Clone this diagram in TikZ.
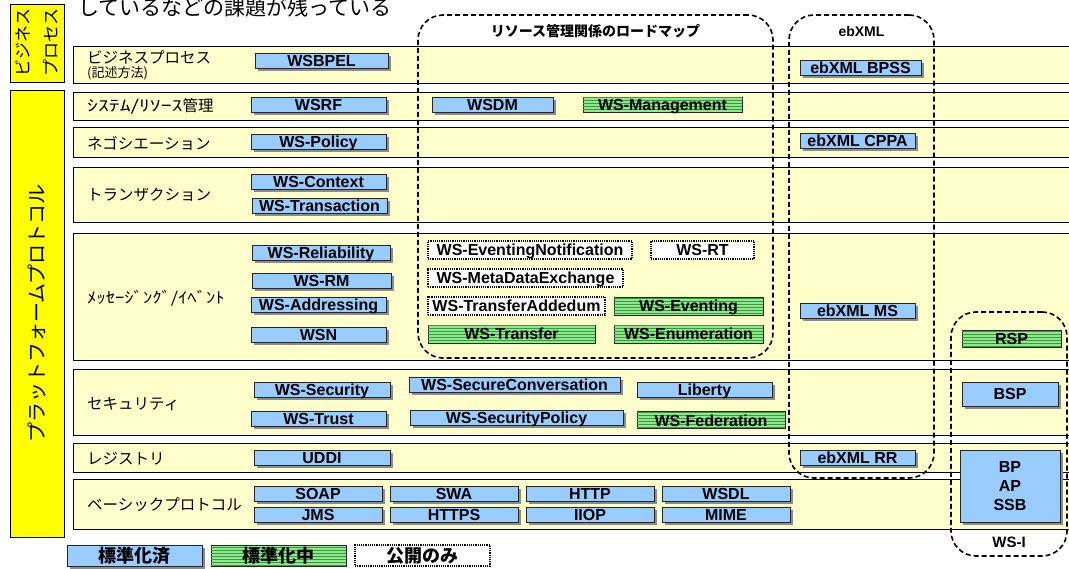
\documentclass[tikz,border=0pt]{standalone}
\usepackage{fontspec}
\setmainfont{Noto Sans CJK JP}
\newfontfamily\boxfont{Liberation Sans}
\usetikzlibrary{positioning,shadows,patterns}
\definecolor{rowfill}{HTML}{FFFFCC}
\definecolor{stdblue}{HTML}{99CCFF}
\definecolor{wipgreen}{HTML}{8FE88F}
\definecolor{wipline}{HTML}{3A9A3A}
\definecolor{sideyellow}{HTML}{FFFF00}
\def \bh{15}

\tikzset{
  box/.style={inner sep=0pt, minimum height=\bh, font=\boxfont\bfseries\fontsize{16}{16}\selectfont},
  boxtext/.style={text height=12pt, text depth=0pt},
  stdfill/.style={draw=black!85, fill=stdblue,
    drop shadow={shadow xshift=3pt, shadow yshift=-3pt, fill=black!45, opacity=1}},
  std/.style={box, boxtext, stdfill},
  wip/.style={box, boxtext, draw=black!85, fill=wipgreen,
    postaction={pattern=horizontal lines, pattern color=wipline}},
  pub/.style={box, boxtext, draw=black, fill=white, densely dotted, line width=1.2pt},
  row/.style={draw=black, fill=rowfill, line width=0.8pt},
  side/.style={draw=black, fill=sideyellow, line width=0.8pt, inner sep=0pt},
  rowlabel/.style={anchor=west, inner sep=0pt, font=\fontsize{15.5}{17}\selectfont},
  group/.style={draw=black, line width=1.6pt, dash pattern=on 5pt off 3pt,
    rounded corners=25pt, inner sep=0pt},
  grouplabel/.style={inner sep=0pt, font=\bfseries\fontsize{14}{14}\selectfont},
  legend/.style={inner sep=0pt, minimum width=135, minimum height=21,
    font=\bfseries\fontsize{18}{18}\selectfont}
}

\begin{document}
\begin{tikzpicture}[x=1pt, y=-1pt]
  \useasboundingbox (0,0) rectangle (1069,569);

  % caption cut at the top
  \node[anchor=west, inner sep=0pt, font=\fontsize{21}{21}\selectfont] (caption) at (78, 7) {しているなどの課題が残っている};

  % rows
  \foreach \top/\bot in {46/83, 92/120, 127/157, 167/222, 233/360, 369/435, 443/472, 479/529}
    \draw[row] (73,\top) rectangle (1080,\bot);

  % side labels
  \node[side, minimum width=54, minimum height=78] (biz) at (37, 43) {};
  \node[rotate=90, align=center, font=\fontsize{17}{28}\selectfont] at (biz) {ビジネス\\プロセス};
  \node[side, minimum width=54, minimum height=447] (platform) at (37, 313.5) {};
  \node[rotate=90, font=\fontsize{20}{20}\selectfont] at (platform) {プラットフォームプロトコル};

  % row labels
  \node[rowlabel] (lbiz) at (87, 57) {ビジネスプロセス};
  \node[rowlabel, font=\fontsize{13}{13}\selectfont] (lbiz2) at (87, 73) {(記述方法)};
  \node[rowlabel] (lsys) at (87, 106) {\scalebox{1.4}[1]{ｼｽﾃﾑ/ﾘｿｰｽ}管理};
  \node[rowlabel] (lnego) at (87, 143) {ネゴシエーション};
  \node[rowlabel] (ltrans) at (87, 195) {トランザクション};
  \node[rowlabel] (lmsg) at (87, 298) {\scalebox{1.2}[1]{ﾒｯｾｰｼﾞﾝｸﾞ/ｲﾍﾞﾝﾄ}};
  \node[rowlabel] (lsec) at (87, 404) {セキュリティ};
  \node[rowlabel] (lreg) at (87, 459) {レジストリ};
  \node[rowlabel] (lbasic) at (87, 505) {ベーシックプロトコル};

  % ビジネスプロセス
  \node[std, minimum width=133] (wsbpel) at (321.5, 60.5) {WSBPEL};
  \node[std, minimum width=121] (bpss) at (860.5, 67.5) {ebXML BPSS};

  % システム/リソース管理
  \node[std, minimum width=135] (wsrf) at (318.5, 104.5) {WSRF};
  \node[std, minimum width=121] (wsdm) at (492.5, 104.5) {WSDM};
  \node[wip, minimum width=159] (wsman) at (662.5, 104.5) {WS-Management};

  % ネゴシエーション
  \node[std, minimum width=135] (wspolicy) at (318.5, 141.5) {WS-Policy};
  \node[std, minimum width=115] (cppa) at (857.5, 140.5) {ebXML CPPA};

  % トランザクション
  \node[std, minimum width=135] (wsctx) at (318.5, 181.5) {WS-Context};
  \node[std, minimum width=135] (wstx) at (319.5, 205.5) {WS-Transaction};

  % メッセージング/イベント
  \node[std, minimum width=138] (wsrel) at (321, 253) {WS-Reliability};
  \node[std, minimum width=139] (wsrm) at (321.5, 281) {WS-RM};
  \node[std, minimum width=135] (wsaddr) at (318.5, 305) {WS-Addressing};
  \node[std, minimum width=135] (wsn) at (318.5, 334.5) {WSN};
  \node[pub, minimum width=204, minimum height=18] (wsevnotif) at (530, 250) {WS-EventingNotification};
  \node[pub, minimum width=103, minimum height=18] (wsrt) at (702.5, 250) {WS-RT};
  \node[pub, minimum width=195, minimum height=18] (wsmex) at (525.5, 278) {WS-MetaDataExchange};
  \node[pub, minimum width=177, minimum height=18] (wstadd) at (516.5, 306) {WS-TransferAddedum};
  \node[wip, minimum width=149, minimum height=18] (wsevent) at (688.5, 306) {WS-Eventing};
  \node[wip, minimum width=167, minimum height=18] (wstransfer) at (511.5, 334) {WS-Transfer};
  \node[wip, minimum width=149, minimum height=18] (wsenum) at (688.5, 334) {WS-Enumeration};
  \node[std, minimum width=115] (ebms) at (857.5, 310.5) {ebXML MS};
  \node[wip, minimum width=99, minimum height=17] (rsp) at (1011.5, 338.5) {RSP};

  % セキュリティ
  \node[std, minimum width=136] (wssec) at (322, 389.5) {WS-Security};
  \node[std, minimum width=135] (wstrust) at (318.5, 418.5) {WS-Trust};
  \node[std, minimum width=211] (wssc) at (514.5, 385) {WS-SecureConversation};
  \node[std, minimum width=213] (wssp) at (516.5, 417.5) {WS-SecurityPolicy};
  \node[std, minimum width=135] (liberty) at (704.5, 389.5) {Liberty};
  \node[wip, minimum width=148, minimum height=17] (wsfed) at (711, 420) {WS-Federation};
  \node[std, minimum width=96, minimum height=24] (bsp) at (1010, 394) {BSP};

  % レジストリ
  \node[std, minimum width=136] (uddi) at (322, 457.5) {UDDI};
  \node[std, minimum width=115] (ebrr) at (857.5, 457.5) {ebXML RR};

  % ベーシックプロトコル
  \node[std, minimum width=128] (soap) at (318, 493.5) {SOAP};
  \node[std, minimum width=128] (jms) at (318, 514.5) {JMS};
  \node[std, minimum width=128] (swa) at (454, 493.5) {SWA};
  \node[std, minimum width=128] (https) at (454, 514.5) {HTTPS};
  \node[std, minimum width=128] (http) at (590, 493.5) {HTTP};
  \node[std, minimum width=128] (iiop) at (590, 514.5) {IIOP};
  \node[std, minimum width=128] (wsdl) at (726, 493.5) {WSDL};
  \node[std, minimum width=128] (mime) at (726, 514.5) {MIME};
  \node[box, stdfill, minimum width=100, minimum height=72, align=center,
    font=\boxfont\bfseries\fontsize{16}{19}\selectfont] (bpapssb) at (1010, 486) {BP\\AP\\SSB};

  % dashed groups
  \node[group, minimum width=355, minimum height=343] (roadmap) at (595.5, 186.5) {};
  \node[grouplabel, below=10pt of roadmap.north] (lroadmap) {リソース管理関係のロードマップ};
  \node[group, minimum width=145, minimum height=463] (ebxml) at (861.5, 246.5) {};
  \node[grouplabel, font=\boxfont\bfseries\fontsize{14}{14}\selectfont, below=12pt of ebxml.north] (lebxml) {ebXML};
  \node[group, minimum width=116, minimum height=244] (wsi) at (1009, 434) {};
  \node[grouplabel, font=\boxfont\bfseries\fontsize{15}{15}\selectfont, above=9pt of wsi.south] (lwsi) {WS-I};

  % legend
  \node[legend, stdfill] (kdone) at (134.5, 555.5) {標準化済};
  \node[legend, draw=black!85, fill=wipgreen,
    postaction={pattern=horizontal lines, pattern color=wipline}] (kwip) at (278.5, 555.5) {標準化中};
  \node[legend, draw=black, fill=white, densely dotted, line width=1.2pt] (kpub) at (422.5, 555.5) {公開のみ};
\end{tikzpicture}
\end{document}
